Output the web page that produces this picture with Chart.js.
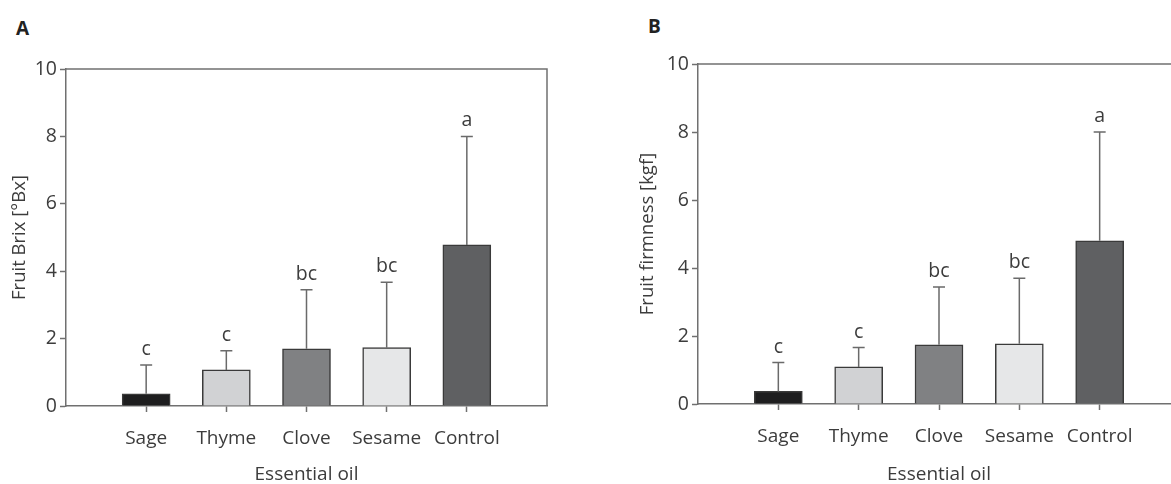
<!DOCTYPE html>
<html>
<head>
<meta charset="utf-8">
<script src="https://cdn.jsdelivr.net/npm/chart.js@4.4.1/dist/chart.umd.min.js"></script>
<style>
  html, body { margin: 0; padding: 0; background: #fff; overflow: hidden; width: 1171px; height: 484px; }
  .panel { position: absolute; top: 0; }
  .tag { position: absolute; font: bold 19px "Open Sans", sans-serif; color: #222; }
</style>
</head>
<body>
<div class="tag" style="left:16px; top:15px;">A</div>
<div class="tag" style="left:648px; top:13px;">B</div>
<canvas id="chartA" class="panel" style="left:0px;" width="560" height="484"></canvas>
<canvas id="chartB" class="panel" style="left:628px;" width="565" height="484"></canvas>
<script>
// data
var categories = ['Sage', 'Thyme', 'Clove', 'Sesame', 'Control'];
var brixMean = [0.36, 1.07, 1.70, 1.73, 4.78];
var brixSD = [0.86, 0.57, 1.75, 1.94, 3.22];
var firmMean = [0.37, 1.09, 1.74, 1.77, 4.80];
var firmSD = [0.85, 0.57, 1.70, 1.93, 3.20];
var brixLetters = ['c', 'c', 'bc', 'bc', 'a'];
var firmLetters = ['c', 'c', 'bc', 'bc', 'a'];
var yTicks = [0, 2, 4, 6, 8, 10];
var barColors = ['#1e1e1f', '#d1d2d4', '#808183', '#e6e7e8', '#5f6062'];

Chart.defaults.font.family = '"Open Sans", sans-serif';
var axisGray = '#707070';
var textGray = '#3c3c3c';

// frame, error bars and letters
var extras = {
  id: 'extras',
  afterDatasetsDraw: function(chart, args, opts) {
    var ctx = chart.ctx;
    var xs = chart.scales.x, ys = chart.scales.y;
    var a = chart.chartArea;
    ctx.save();
    ctx.strokeStyle = axisGray;
    ctx.lineWidth = 1.5;
    ctx.beginPath();
    ctx.moveTo(a.left, a.top);
    ctx.lineTo(a.right, a.top);
    ctx.lineTo(a.right, a.bottom);
    ctx.stroke();

    ctx.strokeStyle = '#6a6a6a';
    ctx.lineWidth = 1.5;
    ctx.font = '19.5px "Open Sans", sans-serif';
    ctx.fillStyle = textGray;
    ctx.textAlign = 'center';
    ctx.textBaseline = 'alphabetic';
    for (var i = 0; i < opts.mean.length; i++) {
      var x = xs.getPixelForValue(i + 1);
      var y0 = ys.getPixelForValue(opts.mean[i]);
      var y1 = ys.getPixelForValue(opts.mean[i] + opts.sd[i]);
      ctx.beginPath();
      ctx.moveTo(x, y0);
      ctx.lineTo(x, y1);
      ctx.moveTo(x - 6, y1);
      ctx.lineTo(x + 6, y1);
      ctx.stroke();
      ctx.fillText(opts.letters[i], x, y1 - 10);
    }
    ctx.restore();
  }
};

function makePanel(id, yTitle, mean, sd, letters, yWidth, top, bottom, rightPad) {
  var ctx = document.getElementById(id).getContext('2d');
  var h = ctx.canvas.height;
  return new Chart(ctx, {
    type: 'bar',
    data: {
      datasets: [{
        data: mean.map(function(v, i) { return {x: i + 1, y: v}; }),
        backgroundColor: barColors,
        borderColor: '#3a3a3a',
        borderWidth: 1.5,
        barThickness: 48
      }]
    },
    options: {
      responsive: false,
      animation: false,
      events: [],
      layout: { padding: { left: 0, top: top, right: rightPad, bottom: 0 } },
      plugins: {
        legend: { display: false },
        tooltip: { enabled: false },
        extras: { mean: mean, sd: sd, letters: letters }
      },
      scales: {
        x: {
          type: 'linear',
          min: 0,
          max: 6,
          offset: false,
          afterBuildTicks: function(s) {
            s.ticks = categories.map(function(c, i) { return {value: i + 1}; });
          },
          afterFit: function(s) { s.height = h - bottom; },
          ticks: {
            autoSkip: false,
            maxRotation: 0,
            padding: 15,
            color: textGray,
            font: { size: 19 },
            callback: function(v) { return categories[v - 1] || ''; }
          },
          grid: { offset: false, drawOnChartArea: false, tickLength: 6, tickColor: axisGray, tickWidth: 1.5 },
          border: { color: axisGray, width: 1.5 },
          title: { display: true, text: 'Essential oil', color: textGray, font: { size: 19, lineHeight: 1.0 }, padding: { top: 0, bottom: 0 } }
        },
        y: {
          min: 0,
          max: 10,
          afterBuildTicks: function(s) {
            s.ticks = yTicks.map(function(v) { return {value: v}; });
          },
          afterFit: function(s) { s.width = yWidth; },
          ticks: { padding: 3, color: textGray, font: { size: 19.5 } },
          grid: { drawOnChartArea: false, tickLength: 6, tickColor: axisGray, tickWidth: 1.5 },
          border: { color: axisGray, width: 1.5 },
          title: { display: true, text: yTitle, color: textGray, font: { size: 18.5 }, padding: { top: 9, bottom: 0 } }
        }
      }
    },
    plugins: [extras]
  });
}

makePanel('chartA', 'Fruit Brix [°Bx]', brixMean, brixSD, brixLetters, 66, 69, 406, 13);
makePanel('chartB', 'Fruit firmness [kgf]', firmMean, firmSD, firmLetters, 70, 64, 404, 13);
</script>
</body>
</html>
